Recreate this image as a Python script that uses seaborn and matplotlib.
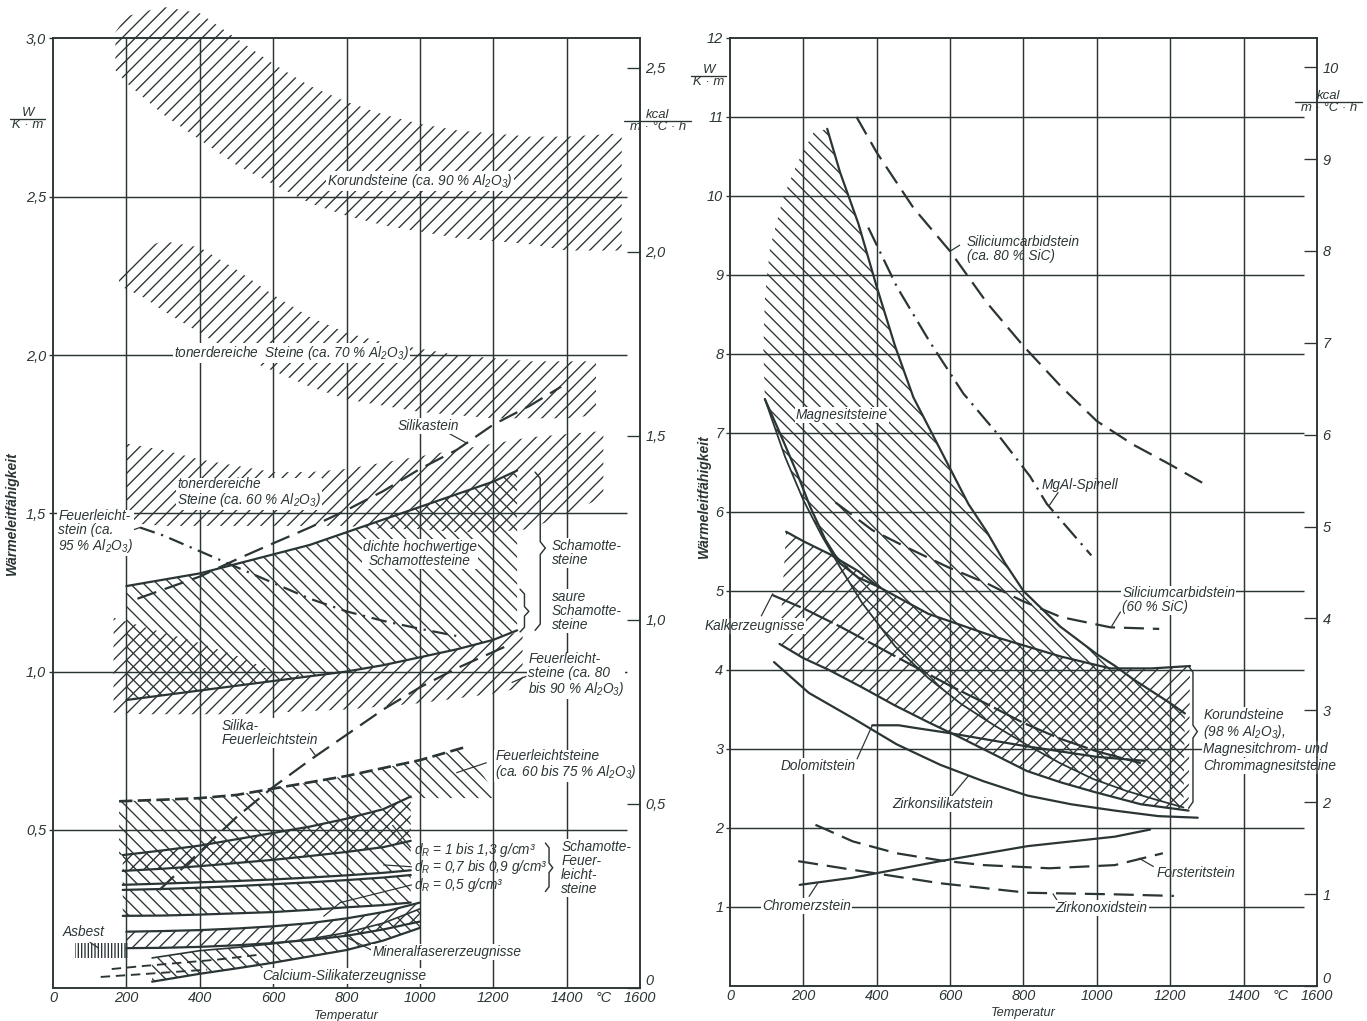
import matplotlib
matplotlib.use("Agg")
import matplotlib.pyplot as plt
import seaborn as sns

# ------------------------------------------------------------------
# Left chart: thermal conductivity W/(K·m) of refractory / insulating
# materials against temperature in °C
# ------------------------------------------------------------------
T_KOR90 = [170, 200, 300, 400, 500, 600, 700, 800, 900, 1000, 1100, 1200, 1300, 1400, 1550]
KOR90_HI = [3.02, 3.07, 3.10, 3.08, 3.00, 2.92, 2.85, 2.80, 2.76, 2.73, 2.71, 2.70, 2.69, 2.69, 2.70]
KOR90_LO = [2.90, 2.86, 2.76, 2.68, 2.60, 2.54, 2.48, 2.44, 2.41, 2.39, 2.37, 2.36, 2.35, 2.33, 2.33]

T_TON70 = [180, 250, 300, 400, 500, 600, 700, 800, 900, 1000, 1100, 1200, 1300, 1400, 1480]
TON70_HI = [2.27, 2.34, 2.36, 2.34, 2.27, 2.19, 2.12, 2.07, 2.04, 2.02, 2.00, 1.99, 1.98, 1.98, 1.98]
TON70_LO = [2.22, 2.18, 2.14, 2.07, 2.00, 1.95, 1.90, 1.86, 1.84, 1.82, 1.81, 1.80, 1.80, 1.80, 1.81]

T_TON60 = [200, 300, 400, 500, 600, 700, 800, 900, 1000, 1100, 1200, 1300, 1400, 1500]
TON60_HI = [1.72, 1.70, 1.67, 1.65, 1.63, 1.63, 1.64, 1.66, 1.68, 1.70, 1.72, 1.74, 1.75, 1.76]
TON60_LO = [1.47, 1.46, 1.46, 1.46, 1.46, 1.46, 1.46, 1.45, 1.45, 1.44, 1.44, 1.45, 1.50, 1.55]

T_SCH = [200, 300, 400, 500, 600, 700, 800, 900, 1000, 1100, 1200, 1265]
SCH_HI = [1.27, 1.29, 1.31, 1.34, 1.37, 1.40, 1.44, 1.48, 1.52, 1.56, 1.60, 1.635]
SCH_LO = [0.91, 0.925, 0.94, 0.955, 0.97, 0.985, 1.00, 1.02, 1.045, 1.07, 1.10, 1.13]

T_FL80 = [165, 250, 400, 500, 600, 700, 800, 900, 1000, 1100, 1200, 1280]
FL80_HI = [1.17, 1.14, 1.09, 1.05, 1.00, 0.985, 1.00, 1.02, 1.045, 1.07, 1.10, 1.13]
FL80_LO = [0.87, 0.865, 0.865, 0.865, 0.87, 0.875, 0.88, 0.89, 0.90, 0.915, 0.93, 0.95]

T_FL95 = [237, 300, 400, 500, 600, 700, 800, 900, 1000, 1110]
FL95 = [1.455, 1.43, 1.38, 1.33, 1.28, 1.23, 1.19, 1.16, 1.135, 1.11]

T_SIL = [230, 400, 500, 600, 700, 800, 900, 1000, 1100, 1200, 1300, 1385]
SIL = [1.23, 1.30, 1.354, 1.405, 1.455, 1.51, 1.57, 1.64, 1.70, 1.78, 1.84, 1.90]

T_SFL = [290, 400, 500, 600, 700, 800, 900, 1000, 1100, 1235]
SFL = [0.31, 0.43, 0.54, 0.635, 0.72, 0.80, 0.88, 0.95, 1.01, 1.08]

T_FL60_HI = [180, 300, 400, 500, 600, 700, 800, 900, 1000, 1120]
FL60_HI = [0.59, 0.595, 0.60, 0.61, 0.63, 0.65, 0.67, 0.695, 0.72, 0.76]
T_FL60_LO = [180, 400, 600, 800, 975, 1100, 1215]
FL60_LO = [0.42, 0.45, 0.49, 0.535, 0.60, 0.60, 0.60]

T_DR = [190, 300, 400, 500, 600, 700, 800, 900, 975]
DR1_HI = [0.42, 0.435, 0.45, 0.47, 0.49, 0.51, 0.535, 0.565, 0.605]
DR1_LO = [0.37, 0.377, 0.385, 0.395, 0.405, 0.417, 0.43, 0.445, 0.465]
DR2_LO = [0.326, 0.33, 0.334, 0.338, 0.343, 0.349, 0.356, 0.364, 0.372]
DR3_HI = [0.31, 0.313, 0.317, 0.322, 0.328, 0.334, 0.341, 0.349, 0.357]
DR3_LO = [0.228, 0.229, 0.232, 0.236, 0.24, 0.247, 0.255, 0.262, 0.27]

T_MF = [200, 300, 400, 500, 600, 700, 800, 900, 1000]
MF_HI = [0.178, 0.18, 0.183, 0.188, 0.195, 0.205, 0.22, 0.24, 0.27]
MF_LO = [0.126, 0.127, 0.13, 0.135, 0.142, 0.152, 0.165, 0.185, 0.21]

T_CS = [270, 400, 500, 600, 700, 800, 900, 1000]
CS_HI = [0.095, 0.118, 0.128, 0.14, 0.155, 0.175, 0.205, 0.25]
CS_LO = [0.02, 0.045, 0.062, 0.08, 0.10, 0.12, 0.15, 0.19]
T_CSD1 = [160, 250, 350, 450, 560]
CSD1 = [0.06, 0.07, 0.08, 0.09, 0.105]
T_CSD2 = [130, 220, 320, 420]
CSD2 = [0.035, 0.042, 0.05, 0.058]

T_ASB = [60, 205]
ASB_HI = [0.142, 0.142]
ASB_LO = [0.095, 0.095]

# ------------------------------------------------------------------
# Right chart: basic and special refractory bricks
# ------------------------------------------------------------------
T_MAG_HI = [265, 300, 350, 400, 450, 500, 550, 600, 650, 700, 750, 800, 900, 1000, 1050, 1100, 1200, 1240]
MAG_HI = [10.85, 10.3, 9.65, 8.85, 8.1, 7.45, 7.0, 6.55, 6.1, 5.75, 5.35, 5.0, 4.55, 4.2, 4.05, 3.88, 3.58, 3.45]
T_MAG_ENV = [265, 227, 182, 145, 109, 95, 91, 95]
MAG_ENV = [10.85, 10.8, 10.4, 9.98, 9.34, 8.7, 8.06, 7.43]
T_MAG_C = [95, 150, 200, 250, 300, 360, 450, 540, 630, 720, 810, 900, 990, 1080, 1160, 1236]
MAG_C = [7.43, 6.7, 6.15, 5.7, 5.3, 4.85, 4.3, 3.9, 3.57, 3.3, 3.05, 2.82, 2.62, 2.47, 2.36, 2.26]
T_MAG_LO = [95, 136, 182, 220, 260, 300, 350, 406]
MAG_LO = [7.43, 7.0, 6.5, 6.05, 5.65, 5.35, 5.17, 5.05]

T_KOR_HI = [153, 200, 270, 350, 406, 541, 722, 902, 1037, 1150, 1254]
KOR_HI = [5.75, 5.63, 5.47, 5.25, 5.05, 4.71, 4.42, 4.17, 4.02, 4.02, 4.05]
T_KOR_LO = [135, 200, 270, 360, 450, 540, 630, 720, 810, 900, 990, 1120, 1250]
KOR_LO = [4.33, 4.15, 4.0, 3.78, 3.55, 3.34, 3.14, 2.93, 2.72, 2.58, 2.46, 2.3, 2.22]

T_KALK = [115, 200, 300, 400, 500, 600, 700, 800, 900, 1000, 1120]
KALK = [4.95, 4.78, 4.55, 4.3, 4.05, 3.8, 3.57, 3.33, 3.13, 2.97, 2.82]
T_DOLO = [388, 460, 500, 600, 700, 800, 900, 1000, 1130]
DOLO = [3.3, 3.3, 3.27, 3.2, 3.12, 3.04, 2.97, 2.9, 2.85]
T_ZSIL = [120, 215, 335, 454, 573, 692, 811, 930, 1049, 1168, 1275]
ZSIL = [4.1, 3.71, 3.39, 3.06, 2.8, 2.59, 2.41, 2.3, 2.22, 2.15, 2.13]

T_SIC80 = [345, 400, 500, 600, 700, 800, 900, 1000, 1100, 1200, 1295]
SIC80 = [11.0, 10.55, 9.85, 9.3, 8.65, 8.1, 7.6, 7.15, 6.85, 6.6, 6.35]
T_SPIN = [377, 455, 545, 636, 727, 818, 864, 985]
SPIN = [9.6, 8.85, 8.15, 7.5, 7.0, 6.45, 6.1, 5.45]
T_SIC60 = [288, 388, 478, 595, 703, 794, 902, 1037, 1170]
SIC60 = [6.12, 5.77, 5.56, 5.3, 5.09, 4.88, 4.67, 4.54, 4.52]

T_FORST = [233, 335, 454, 573, 692, 870, 1049, 1180]
FORST = [2.04, 1.83, 1.68, 1.59, 1.53, 1.49, 1.53, 1.68]
T_ZOX = [186, 335, 573, 811, 1049, 1210]
ZOX = [1.58, 1.47, 1.30, 1.18, 1.16, 1.14]
T_CHROM = [190, 334, 573, 811, 1049, 1145]
CHROM = [1.28, 1.37, 1.58, 1.77, 1.89, 1.98]

KCAL_PER_W = 1.163  # 1 kcal/(m·°C·h) = 1.163 W/(K·m)

LEFT_YTICKS = [0.5, 1.0, 1.5, 2.0, 2.5, 3.0]
LEFT_KCAL = [0, 0.5, 1.0, 1.5, 2.0, 2.5]
RIGHT_YTICKS = list(range(1, 13))
RIGHT_KCAL = list(range(0, 11))
X_TICKS = [0, 200, 400, 600, 800, 1000, 1200, 1400, 1500, 1600]
X_LABELS = ["0", "200", "400", "600", "800", "1000", "1200", "1400", "°C", "1600"]

# ------------------------------------------------------------------
INK = "#2b3535"
DPI = 80

sns.set_theme(style="white")
plt.rcParams["font.family"] = ["Liberation Sans", "DejaVu Sans"]
plt.rcParams["font.style"] = "italic"
plt.rcParams["mathtext.fontset"] = "custom"
plt.rcParams["mathtext.rm"] = "Liberation Sans:italic"
plt.rcParams["mathtext.it"] = "Liberation Sans:italic"
plt.rcParams["mathtext.bf"] = "Liberation Sans:italic:bold"
plt.rcParams["hatch.linewidth"] = 1.2
plt.rcParams["axes.edgecolor"] = INK
plt.rcParams["text.color"] = INK
plt.rcParams["xtick.color"] = INK
plt.rcParams["ytick.color"] = INK

FS = 12.3
TS = 13
LW = 2.0

fig = plt.figure(figsize=(1367 / DPI, 1021 / DPI), dpi=DPI, facecolor="white")
axL = fig.add_axes([0.0388, 0.0323, 0.4294, 0.9300])
axR = fig.add_axes([0.5340, 0.0343, 0.4294, 0.9285])


def band(ax, t_hi, v_hi, t_lo, v_lo, hatch, clip=True):
    xs = list(t_hi) + list(t_lo)[::-1]
    ys = list(v_hi) + list(v_lo)[::-1]
    ax.fill(xs, ys, facecolor="none", edgecolor=INK, hatch=hatch,
            linewidth=0, zorder=2, clip_on=clip)


def curve(ax, t, v, ls="-", lw=LW):
    sns.lineplot(x=t, y=v, ax=ax, color=INK, linewidth=lw, linestyle=ls,
                 sort=False, estimator=None, legend=False, zorder=3)


def leader(ax, xs, ys, lw=1.1):
    ax.plot(xs, ys, color=INK, lw=lw, zorder=3, solid_capstyle="butt")


def label(ax, t, v, s, ha="left", va="center", box=True, size=FS):
    kw = dict(ha=ha, va=va, fontsize=size, color=INK, zorder=6, linespacing=1.0)
    if box:
        kw["bbox"] = dict(facecolor="white", edgecolor="none", pad=0.8)
    ax.text(t, v, s, **kw)


def brace(ax, x, y0, y1, ytip, w, e):
    xs = [x - w, x, x, x + w, x, x, x - w]
    ys = [y1, y1 - e, ytip + e, ytip, ytip - e, y0 + e, y0]
    ax.plot(xs, ys, color=INK, lw=1.3, zorder=3)


def frame(ax, ymax, yticks, ylabels, kcal_ticks, kcal_labels, grid_y):
    ax.set_xlim(0, 1600)
    ax.set_ylim(0, ymax)
    ax.set_facecolor("white")
    ax.hlines(grid_y, 0, 1565, color=INK, lw=1.3, zorder=1)
    ax.vlines([200, 400, 600, 800, 1000, 1200, 1400], 0, ymax, color=INK, lw=1.3, zorder=1)
    for sp in ax.spines.values():
        sp.set_color(INK)
        sp.set_linewidth(1.4)
    ax.set_xticks(X_TICKS)
    ax.set_xticklabels(X_LABELS)
    ax.set_yticks(yticks)
    ax.set_yticklabels(ylabels)
    ax.tick_params(axis="x", length=0, pad=3, labelsize=TS)
    ax.tick_params(axis="y", length=4, width=1.2, direction="out", pad=2, labelsize=TS)
    ax.set_xlabel("")
    ax.set_ylabel("")
    ax.text(0.5, -0.029, "Temperatur", transform=ax.transAxes, ha="center",
            va="center", fontsize=FS - 0.8)
    k = ax.twinx()
    k.set_ylim(0, ymax / KCAL_PER_W)
    k.set_yticks(kcal_ticks)
    k.set_yticklabels(kcal_labels)
    k.tick_params(axis="y", direction="in", length=12, width=1.2, pad=5, labelsize=TS)
    # lift the kcal zero label clear of the temperature scale
    k.get_yticklabels()[0].set_verticalalignment("bottom")
    for sp in k.spines.values():
        sp.set_color(INK)
        sp.set_linewidth(1.4)
    return k


def fraction(ax, xa, y, top, bottom, width):
    tr = ax.get_yaxis_transform()
    ax.text(xa, y, top, transform=tr, ha="center", va="bottom",
            fontsize=FS - 0.5, clip_on=False)
    ax.text(xa, y, bottom, transform=tr, ha="center", va="top",
            fontsize=FS - 0.5, clip_on=False)
    ax.plot([xa - width / 2, xa + width / 2], [y, y], transform=tr,
            color=INK, lw=1.2, clip_on=False)


def comma(v):
    return f"{v:.1f}".replace(".", ",")


# ------------------------- left chart -----------------------------
frame(axL, 3.0, LEFT_YTICKS, [comma(v) for v in LEFT_YTICKS],
      LEFT_KCAL, ["0" if v == 0 else comma(v) for v in LEFT_KCAL],
      [0.5, 1.0, 1.5, 2.0, 2.5])

band(axL, T_KOR90, KOR90_HI, T_KOR90, KOR90_LO, "//", clip=False)
band(axL, T_TON70, TON70_HI, T_TON70, TON70_LO, "//")
band(axL, T_TON60, TON60_HI, T_TON60, TON60_LO, "//")
band(axL, T_SCH, SCH_HI, T_SCH, SCH_LO, "\\\\")
band(axL, T_FL80, FL80_HI, T_FL80, FL80_LO, "//")
band(axL, T_FL60_HI, FL60_HI, T_FL60_LO, FL60_LO, "\\\\")
band(axL, T_DR, DR1_HI, T_DR, DR1_LO, "xx")
band(axL, T_DR, DR1_LO, T_DR, DR2_LO, "\\\\")
band(axL, T_DR, DR3_HI, T_DR, DR3_LO, "\\\\")
band(axL, T_MF, MF_HI, T_MF, MF_LO, "//")
band(axL, T_CS, CS_HI, T_CS, CS_LO, "\\\\")
band(axL, T_ASB, ASB_HI, T_ASB, ASB_LO, "||||")

curve(axL, T_SCH, SCH_HI)
curve(axL, T_SCH, SCH_LO)
curve(axL, T_FL95, FL95, ls=(0, (7, 3, 1, 3)))
curve(axL, T_SIL, SIL, ls=(0, (9, 4)))
curve(axL, T_SFL, SFL, ls=(0, (9, 4)))
curve(axL, T_FL60_HI, FL60_HI, ls=(0, (5, 2)), lw=2.4)
curve(axL, T_DR, DR1_HI)
curve(axL, T_DR, DR1_LO)
curve(axL, T_DR, DR2_LO)
curve(axL, T_DR, DR3_HI)
curve(axL, T_DR, DR3_LO)
curve(axL, T_MF, MF_HI)
curve(axL, T_MF, MF_LO)
curve(axL, T_CS, CS_HI, lw=1.5)
curve(axL, T_CS, CS_LO)
curve(axL, T_CSD1, CSD1, ls=(0, (5, 3)), lw=1.7)
curve(axL, T_CSD2, CSD2, ls=(0, (5, 3)), lw=1.7)

label(axL, 1000, 2.55, "Korundsteine (ca. 90 % Al$_2$O$_3$)", ha="center")
label(axL, 650, 2.005, "tonerdereiche  Steine (ca. 70 % Al$_2$O$_3$)", ha="center")
label(axL, 338, 1.565, "tonerdereiche\nSteine (ca. 60 % Al$_2$O$_3$)")
label(axL, 1023, 1.775, "Silikastein", ha="center")
label(axL, 1000, 1.37, "dichte hochwertige\nSchamottesteine", ha="center")
label(axL, 1360, 1.375, "Schamotte-\nsteine")
label(axL, 1360, 1.19, "saure\nSchamotte-\nsteine")
label(axL, 1295, 0.99, "Feuerleicht-\nsteine (ca. 80\nbis 90 % Al$_2$O$_3$)")
label(axL, 14, 1.44, "Feuerleicht-\nstein (ca.\n95 % Al$_2$O$_3$)")
label(axL, 460, 0.805, "Silika-\nFeuerleichtstein")
label(axL, 1205, 0.705, "Feuerleichtsteine\n(ca. 60 bis 75 % Al$_2$O$_3$)")
label(axL, 985, 0.437, "$d_R$ = 1 bis 1,3 g/cm³", box=False)
label(axL, 985, 0.383, "$d_R$ = 0,7 bis 0,9 g/cm³", box=False)
label(axL, 985, 0.326, "$d_R$ = 0,5 g/cm³", box=False)
label(axL, 1385, 0.38, "Schamotte-\nFeuer-\nleicht-\nsteine")
label(axL, 83, 0.177, "Asbest", ha="center", box=False)
label(axL, 870, 0.115, "Mineralfasererzeugnisse")
label(axL, 795, 0.038, "Calcium-Silikaterzeugnisse", ha="center")

brace(axL, 1328, 1.13, 1.63, 1.39, 14, 0.02)
brace(axL, 1285, 1.125, 1.26, 1.19, 12, 0.015)
brace(axL, 1352, 0.305, 0.458, 0.38, 10, 0.015)

leader(axL, [200, 237], [1.44, 1.455])
leader(axL, [1075, 1130], [1.755, 1.72])
leader(axL, [690, 715], [0.775, 0.735])
leader(axL, [1182, 1099], [0.712, 0.68])
leader(axL, [1290, 1250], [0.985, 0.965])
leader(axL, [975, 925], [0.443, 0.515])
leader(axL, [978, 900], [0.383, 0.389])
leader(axL, [978, 783, 737], [0.326, 0.27, 0.226])
leader(axL, [100, 123], [0.145, 0.127])
leader(axL, [868, 804], [0.12, 0.158])
leader(axL, [580, 555], [0.05, 0.085])

axL.text(-0.07, 0.5, "Wärmeleitfähigkeit", transform=axL.transAxes, rotation=90,
         ha="center", va="center", fontsize=12.5, fontweight="bold")
fraction(axL, -0.043, 2.745, "W", "K · m", 0.06)
fraction(axL, 1.03, 2.74, "kcal", "m · °C · h", 0.115)

# ------------------------- right chart ----------------------------
frame(axR, 12.0, RIGHT_YTICKS, [str(v) for v in RIGHT_YTICKS],
      RIGHT_KCAL, [str(v) for v in RIGHT_KCAL],
      list(range(1, 12)))

band(axR, T_MAG_HI + [1236] + T_MAG_C[::-1] + T_MAG_ENV[::-1][:-1],
     MAG_HI + [2.26] + MAG_C[::-1] + MAG_ENV[::-1][:-1], [], [], "\\\\")
band(axR, T_KOR_HI, KOR_HI, T_KOR_LO, KOR_LO, "//")

curve(axR, T_MAG_HI, MAG_HI)
curve(axR, T_MAG_LO, MAG_LO)
curve(axR, T_MAG_C, MAG_C, lw=1.6)
curve(axR, T_KOR_HI, KOR_HI)
curve(axR, T_KOR_LO, KOR_LO)
curve(axR, T_KALK, KALK, ls=(0, (14, 2)))
curve(axR, T_DOLO, DOLO)
curve(axR, T_ZSIL, ZSIL)
curve(axR, T_SIC80, SIC80, ls=(0, (9, 4)))
curve(axR, T_SPIN, SPIN, ls=(0, (9, 3, 1, 3)))
curve(axR, T_SIC60, SIC60, ls=(0, (9, 4)))
curve(axR, T_FORST, FORST, ls=(0, (9, 4)))
curve(axR, T_ZOX, ZOX, ls=(0, (9, 4)))
curve(axR, T_CHROM, CHROM)

label(axR, 645, 9.33, "Siliciumcarbidstein\n(ca. 80 % SiC)", box=False)
label(axR, 305, 7.23, "Magnesitsteine", ha="center")
label(axR, 850, 6.34, "MgAl-Spinell", box=False)
label(axR, 1069, 4.88, "Siliciumcarbidstein\n(60 % SiC)")
label(axR, 68, 4.56, "Kalkerzeugnisse", ha="center")
# four-line label beside the brace, set line by line
label(axR, 1290, 3.43, "Korundsteine")
label(axR, 1290, 3.21, "(98 % Al$_2$O$_3$),")
label(axR, 1290, 3.0, "Magnesitchrom- und")
label(axR, 1290, 2.79, "Chrommagnesitsteine")
label(axR, 239, 2.78, "Dolomitstein", ha="center")
label(axR, 579, 2.3, "Zirkonsilikatstein", ha="center")
label(axR, 1162, 1.43, "Forsteritstein", box=False)
label(axR, 209, 1.01, "Chromerzstein", ha="center")
label(axR, 1013, 0.99, "Zirkonoxidstein", ha="center")

brace(axR, 1262, 2.25, 4.05, 3.22, 12, 0.08)

leader(axR, [600, 627], [9.3, 9.38])
leader(axR, [870, 895], [6.08, 6.25])
leader(axR, [1040, 1065], [4.55, 4.74])
leader(axR, [117, 85], [4.97, 4.68])
leader(axR, [346, 388], [2.87, 3.3])
leader(axR, [600, 650], [2.38, 2.66])
leader(axR, [1155, 1114], [1.51, 1.62])
leader(axR, [895, 880], [1.06, 1.17])
leader(axR, [215, 239], [1.13, 1.3])

axR.text(-0.045, 0.517, "Wärmeleitfähigkeit", transform=axR.transAxes, rotation=90,
         ha="center", va="center", fontsize=12.5, fontweight="bold")
fraction(axR, -0.036, 11.52, "W", "K · m", 0.06)
fraction(axR, 1.02, 11.19, "kcal", "m · °C · h", 0.115)

fig.savefig("out.png", dpi=DPI, facecolor="white")
